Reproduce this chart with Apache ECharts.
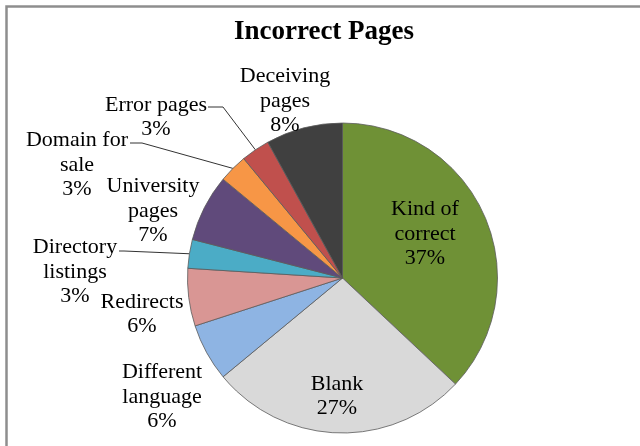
<!DOCTYPE html>
<html>
<head>
<meta charset="utf-8">
<script src="https://cdn.jsdelivr.net/npm/echarts@6/dist/echarts.min.js"></script>
<style>
  html, body { margin: 0; padding: 0; background: #fff; }
  #chart { width: 640px; height: 446px; }
</style>
</head>
<body>
<div id="chart"></div>
<script>
// Page categories, clockwise from 12 o'clock
const categories = [
  'Kind of\ncorrect', 'Blank', 'Different\nlanguage', 'Redirects',
  'Directory\nlistings', 'University\npages', 'Domain for\nsale',
  'Error pages', 'Deceiving\npages'
];
// Share of incorrect pages, in percent
const shares = [37, 27, 6, 6, 3, 7, 3, 3, 8];

const sliceColors = [
  '#6F9136', '#D9D9D9', '#8EB4E3', '#D99694', '#4BACC6',
  '#604A7B', '#F79646', '#C0504D', '#404040'
];

// Label block centres and, for the small slices, the leader-line bend and end
const labelSpots = [
  { c: [425, 234] },
  { c: [337, 396] },
  { c: [162, 397] },
  { c: [142, 314] },
  { c: [75, 272], knee: [124, 251], end: [119, 251] },
  { c: [153, 211] },
  { c: [77, 165], knee: [142, 143], end: [130, 143] },
  { c: [156, 117], knee: [223, 107], end: [208, 107] },
  { c: [285, 101] }
];

const chart = echarts.init(document.getElementById('chart'));

const pieData = categories.map((name, i) => ({
  name: name,
  value: shares[i],
  itemStyle: { color: sliceColors[i] },
  labelLine: { show: !!labelSpots[i].knee }
}));

chart.setOption({
  animation: false,
  backgroundColor: '#ffffff',
  title: {
    text: 'Incorrect Pages',
    left: 319,
    top: 14,
    textAlign: 'center',
    textStyle: {
      fontFamily: 'Liberation Serif',
      fontWeight: 'bold',
      fontSize: 27,
      color: '#000'
    }
  },
  graphic: [{
    type: 'rect',
    shape: { x: 6.5, y: 6.5, width: 700, height: 500 },
    style: { fill: 'none', stroke: '#8E8E8E', lineWidth: 2.5 },
    silent: true
  }],
  series: [{
    type: 'pie',
    center: [342.5, 278],
    radius: 155,
    startAngle: 90,
    clockwise: true,
    avoidLabelOverlap: false,
    data: pieData,
    itemStyle: { borderColor: '#5a5a5a', borderWidth: 0.8 },
    label: {
      show: true,
      position: 'outside',
      formatter: p => p.name + '\n' + p.value + '%',
      fontFamily: 'Liberation Serif',
      fontSize: 22,
      lineHeight: 24.5,
      color: '#000',
      align: 'center'
    },
    labelLine: {
      show: true,
      length: 10,
      length2: 10,
      lineStyle: { color: '#333', width: 1 }
    },
    labelLayout: function (p) {
      const spot = labelSpots[p.dataIndex];
      const out = {
        x: spot.c[0],
        y: spot.c[1],
        align: 'center',
        verticalAlign: 'middle'
      };
      if (spot.knee && p.labelLinePoints) {
        out.labelLinePoints = [p.labelLinePoints[0], spot.knee, spot.end];
      }
      return out;
    }
  }]
});
</script>
</body>
</html>
